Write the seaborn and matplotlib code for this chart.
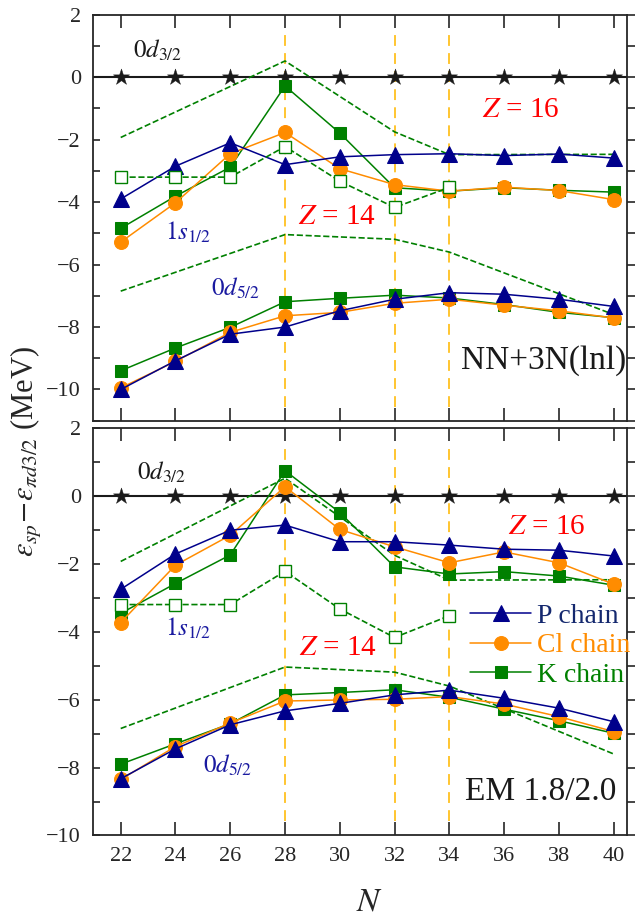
import numpy as np
import pandas as pd
import seaborn as sns
import matplotlib.pyplot as plt
from matplotlib.ticker import MultipleLocator

# neutron number
N = [22, 24, 26, 28, 30, 32, 34, 36, 38, 40]
ref_d32 = [0, 0, 0, 0, 0, 0, 0, 0, 0, 0]

# NN+3N(lnl)
top_P_s12 = [-3.9, -2.85, -2.1, -2.8, -2.55, -2.48, -2.45, -2.51, -2.46, -2.59]
top_Cl_s12 = [-5.28, -4.02, -2.45, -1.77, -2.93, -3.44, -3.65, -3.52, -3.63, -3.92]
top_K_s12 = [-4.84, -3.81, -2.88, -0.28, -1.79, -3.54, -3.65, -3.54, -3.62, -3.68]
top_P_d52 = [-10.0, -9.08, -8.23, -8.0, -7.48, -7.11, -6.9, -6.95, -7.11, -7.34]
top_Cl_d52 = [-9.95, -9.1, -8.17, -7.64, -7.53, -7.24, -7.11, -7.30, -7.48, -7.71]
top_K_d52 = [-9.40, -8.67, -8.01, -7.19, -7.08, -6.98, -7.07, -7.28, -7.53, -7.70]

# EM 1.8/2.0
bot_P_s12 = [-2.75, -1.71, -1.01, -0.86, -1.35, -1.35, -1.45, -1.57, -1.6, -1.77]
bot_Cl_s12 = [-3.73, -2.04, -1.16, 0.27, -0.99, -1.5, -1.97, -1.65, -1.97, -2.6]
bot_K_s12 = [-3.46, -2.58, -1.74, 0.74, -0.49, -2.09, -2.3, -2.23, -2.36, -2.63]
bot_P_d52 = [-8.33, -7.45, -6.74, -6.33, -6.11, -5.86, -5.72, -5.96, -6.25, -6.65]
bot_Cl_d52 = [-8.35, -7.38, -6.69, -6.04, -6.01, -5.99, -5.91, -6.13, -6.5, -6.94]
bot_K_d52 = [-7.9, -7.3, -6.71, -5.86, -5.79, -5.71, -5.93, -6.28, -6.62, -6.99]

# experiment (same in both panels)
N_exp = [22, 24, 26, 28, 30, 32, 34]
exp_s12 = [-3.2, -3.2, -3.2, -2.22, -3.33, -4.17, -3.53]
N_dash = [22, 28, 32, 34, 40]
dash_upper = [-1.93, 0.52, -1.75, -2.48, -2.47]
dash_lower = [-6.85, -5.04, -5.19, -5.6, -7.6]

magic_N = [28, 32, 34]

c_P = '#00008B'
c_Cl = '#FF8C00'
c_K = '#008000'
c_lab = '#1a1aa0'

sns.set_theme(style='ticks')
plt.rcParams['font.family'] = ['Liberation Serif', 'DejaVu Serif']
plt.rcParams['mathtext.fontset'] = 'stix'
plt.rcParams['axes.linewidth'] = 1.3

fig = plt.figure(figsize=(6.41, 9.16), dpi=100)
ax1 = fig.add_axes([0.1456, 0.5407, 0.8331, 0.4432])
ax2 = fig.add_axes([0.1456, 0.0879, 0.8331, 0.4449])


def draw_panel(ax, P_s12, Cl_s12, K_s12, P_d52, Cl_d52, K_d52, with_label):
    for n in magic_N:
        ax.axvline(n, ymin=0.035, ymax=0.965, color='#FFC020', lw=1.3,
                   linestyle=(0, (6, 4)), zorder=1)
    ax.axhline(0, color='k', lw=1.5, zorder=2)
    sns.scatterplot(x=N, y=ref_d32, marker='*', s=150, color='k',
                    edgecolor='k', linewidth=0.3, ax=ax, zorder=3)
    for yy in [dash_upper, dash_lower]:
        sns.lineplot(x=N_dash, y=yy, color=c_K, lw=1.2, linestyle='--',
                     ax=ax, zorder=2)
    kw = dict(lw=1.1, ax=ax)
    lab = (lambda s: s) if with_label else (lambda s: None)
    sns.lineplot(x=N, y=K_s12, color=c_K, marker='s', markersize=8.5,
                 markeredgecolor=c_K, label=lab('K chain'), zorder=4, **kw)
    sns.lineplot(x=N, y=K_d52, color=c_K, marker='s', markersize=8.5,
                 markeredgecolor=c_K, zorder=4, **kw)
    sns.lineplot(x=N, y=Cl_s12, color=c_Cl, marker='o', markersize=10,
                 markeredgecolor=c_Cl, label=lab('Cl chain'), zorder=5, **kw)
    sns.lineplot(x=N, y=Cl_d52, color=c_Cl, marker='o', markersize=10,
                 markeredgecolor=c_Cl, zorder=5, **kw)
    sns.lineplot(x=N, y=P_s12, color=c_P, marker='^', markersize=11,
                 markeredgecolor=c_P, label=lab('P chain'), zorder=6, **kw)
    sns.lineplot(x=N, y=P_d52, color=c_P, marker='^', markersize=11,
                 markeredgecolor=c_P, zorder=6, **kw)
    sns.lineplot(x=N_exp, y=exp_s12, color=c_K, lw=1.2, linestyle='--',
                 marker='s', markersize=8.5, markerfacecolor='white',
                 markeredgecolor=c_K, markeredgewidth=1.0, ax=ax, zorder=7)

    ax.set_xlim(21, 40.5)
    ax.set_xticks(N)
    ax.yaxis.set_major_locator(MultipleLocator(2))
    ax.yaxis.set_minor_locator(MultipleLocator(1))
    ax.tick_params(axis='x', which='both', direction='in', top=True, bottom=True,
                   length=9.5, width=1.2, labelsize=16, pad=8)
    ax.tick_params(axis='y', which='both', direction='in', left=True, right=False,
                   length=5, width=1.2, labelsize=16, pad=9)
    sec = ax.secondary_yaxis('right')
    sec.yaxis.set_major_locator(MultipleLocator(1))
    sec.tick_params(axis='y', direction='out', length=6, width=1.2, labelright=False)
    sec.spines['right'].set_visible(False)
    ax.set_xlabel('')
    ax.set_ylabel('')
    for s in ['top', 'right', 'bottom', 'left']:
        ax.spines[s].set_visible(True)


draw_panel(ax1, top_P_s12, top_Cl_s12, top_K_s12, top_P_d52, top_Cl_d52, top_K_d52, False)
draw_panel(ax2, bot_P_s12, bot_Cl_s12, bot_K_s12, bot_P_d52, bot_Cl_d52, bot_K_d52, True)

ax1.set_ylim(-11, 2)
ax2.set_ylim(-10, 2)
ax1.tick_params(axis='x', labelbottom=False)

# annotations, top panel
ax1.text(22.44, 0.61, r'$0d_{3/2}$', fontsize=18, color='k', va='baseline')
ax1.text(35.2, -1.28, r'$Z$ = 16', fontsize=21, color='red', va='baseline')
ax1.text(28.46, -4.71, r'$Z$ = 14', fontsize=21, color='red', va='baseline')
ax1.text(23.6, -5.21, r'$1s_{1/2}$', fontsize=18, color=c_lab, va='baseline')
ax1.text(25.3, -7.0, r'$0d_{5/2}$', fontsize=18, color=c_lab, va='baseline')
ax1.text(0.998, -9.34, 'NN+3N(lnl)', fontsize=24, color='k', va='baseline',
         ha='right', transform=ax1.get_yaxis_transform())

# annotations, bottom panel
ax2.text(22.58, 0.48, r'$0d_{3/2}$', fontsize=18, color='k', va='baseline')
ax2.text(36.15, -1.13, r'$Z$ = 16', fontsize=21, color='red', va='baseline')
ax2.text(28.5, -4.69, r'$Z$ = 14', fontsize=21, color='red', va='baseline')
ax2.text(23.6, -4.13, r'$1s_{1/2}$', fontsize=18, color=c_lab, va='baseline')
ax2.text(25.0, -8.15, r'$0d_{5/2}$', fontsize=18, color=c_lab, va='baseline')
ax2.text(0.98, -8.95, 'EM 1.8/2.0', fontsize=24, color='k', va='baseline',
         ha='right', transform=ax2.get_yaxis_transform())

handles, labels = ax2.get_legend_handles_labels()
order = [labels.index('P chain'), labels.index('Cl chain'), labels.index('K chain')]
leg = ax2.legend([handles[i] for i in order], [labels[i] for i in order],
                 loc='upper left', bbox_to_anchor=(0.706, 0.57), frameon=False,
                 fontsize=20, handlelength=2.2, handletextpad=0.2,
                 labelspacing=0.15, borderpad=0, borderaxespad=0)
for t, c in zip(leg.get_texts(), ['#14286e', c_Cl, c_K]):
    t.set_color(c)

fig.text(0.577, 0.015, r'$N$', fontsize=24, ha='center', va='center')
fig.text(0.042, 0.507, r'$\varepsilon_{sp}\!-\!\varepsilon_{\pi d3/2}$ (MeV)',
         fontsize=22, rotation=90, ha='center', va='center')

fig.savefig('out.png', dpi=100)
